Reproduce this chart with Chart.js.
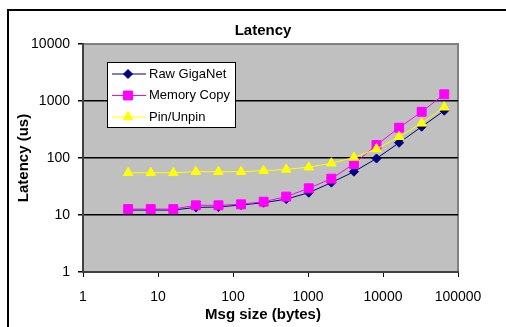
<!DOCTYPE html>
<html>
<head>
<meta charset="utf-8">
<script src="https://cdn.jsdelivr.net/npm/chart.js@4/dist/chart.umd.min.js"></script>
<style>
  html, body { margin: 0; padding: 0; background: #fff; }
  #wrap { width: 506px; height: 327px; position: relative; }
</style>
</head>
<body>
<div id="wrap"><canvas id="myChart" width="506" height="327"></canvas></div>
<script>
const msgSizes = [4, 8, 16, 32, 64, 128, 256, 512, 1024, 2048, 4096, 8192, 16384, 32768, 65536];
const rawGiganet = [12.2, 12.2, 12.2, 13.6, 13.8, 15, 16.4, 19, 24.6, 37, 57.5, 98, 185, 354, 676];
const memoryCopy = [12.7, 12.7, 12.7, 14.8, 14.8, 15.4, 17.1, 21, 29.4, 43.4, 78.5, 169, 340, 647, 1310];
const pinUnpin = [55, 55, 55, 57.5, 57.5, 57.5, 60, 63, 69, 81, 102, 144, 236, 406, 776];
const xTicks = [1, 10, 100, 1000, 10000, 100000];
const yTicks = [1, 10, 100, 1000, 10000];

const FONT = "'Liberation Sans', Arial, sans-serif";

function pairs(ys) {
    return msgSizes.map((x, i) => ({ x: x, y: ys[i] }));
}

// grey plot area, frame and the texts Excel puts outside the axes
const decor = {
    id: 'decor',
    beforeDraw(chart) {
        const { ctx, chartArea: a } = chart;
        ctx.save();
        ctx.fillStyle = '#c0c0c0';
        ctx.fillRect(a.left, a.top, a.right - a.left, a.bottom - a.top);
        ctx.strokeStyle = '#808080';
        ctx.lineWidth = 2;
        ctx.beginPath();
        ctx.moveTo(a.left, a.top);
        ctx.lineTo(a.right, a.top);
        ctx.lineTo(a.right, a.bottom);
        ctx.stroke();
        // outer chart frame
        ctx.strokeStyle = '#000';
        ctx.lineWidth = 2;
        ctx.beginPath();
        ctx.moveTo(8, 327);
        ctx.lineTo(8, 10);
        ctx.lineTo(506, 10);
        ctx.stroke();
        ctx.fillStyle = '#000';
        ctx.textAlign = 'center';
        ctx.textBaseline = 'middle';
        ctx.font = 'bold 15px ' + FONT;
        ctx.fillText('Latency', 263, 31);
        ctx.fillText('Msg size (bytes)', 263, 315);
        ctx.restore();
    },
    afterDraw(chart) {
        const { ctx } = chart;
        const box = { x: 107, y: 62, w: 128, h: 65 };
        ctx.save();
        ctx.fillStyle = '#fff';
        ctx.fillRect(box.x, box.y, box.w, box.h);
        ctx.strokeStyle = '#000';
        ctx.lineWidth = 1;
        ctx.strokeRect(box.x + 0.5, box.y + 0.5, box.w, box.h);
        ctx.font = '13px ' + FONT;
        ctx.textBaseline = 'middle';
        ctx.textAlign = 'left';
        chart.data.datasets.forEach((ds, i) => {
            const y = 74 + i * 21.5;
            ctx.strokeStyle = ds.borderColor;
            ctx.lineWidth = 1;
            ctx.beginPath();
            ctx.moveTo(112, y);
            ctx.lineTo(146, y);
            ctx.stroke();
            ctx.fillStyle = ds.pointBackgroundColor;
            ctx.strokeStyle = ds.pointBorderColor;
            Chart.helpers.drawPoint(ctx, {
                pointStyle: ds.pointStyle, radius: ds.pointRadius, borderWidth: 1, rotation: 0
            }, 128, y);
            ctx.fillStyle = '#000';
            ctx.fillText(ds.label, 149, y);
        });
        ctx.restore();
    }
};

const data = {
    datasets: [{
        label: 'Raw GigaNet',
        data: pairs(rawGiganet),
        borderColor: '#000080',
        pointBackgroundColor: '#000080',
        pointBorderColor: '#000080',
        pointStyle: 'rectRot',
        pointRadius: 4.5,
        borderWidth: 1,
        order: 3
    }, {
        label: 'Memory Copy',
        data: pairs(memoryCopy),
        borderColor: '#ff00ff',
        pointBackgroundColor: '#ff00ff',
        pointBorderColor: '#ff00ff',
        pointStyle: 'rect',
        pointRadius: 6.3,
        borderWidth: 1,
        order: 2
    }, {
        label: 'Pin/Unpin',
        data: pairs(pinUnpin),
        borderColor: '#ffff00',
        pointBackgroundColor: '#ffff00',
        pointBorderColor: '#ffff00',
        pointStyle: 'triangle',
        pointRadius: 5.5,
        borderWidth: 1,
        order: 1
    }]
};

const config = {
    type: 'line',
    data: data,
    plugins: [decor],
    options: {
        responsive: false,
        animation: false,
        layout: { padding: { top: 44, right: 48, left: 8, bottom: 0 } },
        plugins: {
            legend: { display: false },
            title: { display: false },
            tooltip: { enabled: false }
        },
        scales: {
            x: {
                type: 'logarithmic',
                min: 1,
                max: 100000,
                afterBuildTicks: s => { s.ticks = xTicks.map(v => ({ value: v })); },
                afterFit: s => { s.height = 55; },
                border: { color: '#404040', width: 2 },
                grid: { drawOnChartArea: false, drawTicks: true, tickLength: 5, tickColor: '#000' },
                ticks: {
                    color: '#000',
                    padding: 12,
                    maxRotation: 0,
                    autoSkip: false,
                    font: { family: FONT, size: 14 },
                    callback: v => String(v)
                }
            },
            y: {
                type: 'logarithmic',
                min: 1,
                max: 10000,
                afterBuildTicks: s => { s.ticks = yTicks.map(v => ({ value: v })); },
                afterFit: s => { s.width = 75; },
                border: { color: '#404040', width: 2 },
                grid: {
                    color: c => (c.tick && c.tick.value > 1 && c.tick.value < 10000) ? '#000' : 'rgba(0,0,0,0)',
                    lineWidth: 1.5,
                    drawTicks: true,
                    tickLength: 5,
                    tickColor: '#000'
                },
                ticks: {
                    color: '#000',
                    padding: 8,
                    autoSkip: false,
                    font: { family: FONT, size: 14 },
                    callback: v => String(v)
                },
                title: {
                    display: true,
                    text: 'Latency (us)',
                    color: '#000',
                    font: { family: FONT, size: 15, weight: 'bold' },
                    padding: { top: 7, bottom: 0 }
                }
            }
        }
    }
};

const myChart = new Chart(document.getElementById('myChart'), config);
</script>
</body>
</html>
